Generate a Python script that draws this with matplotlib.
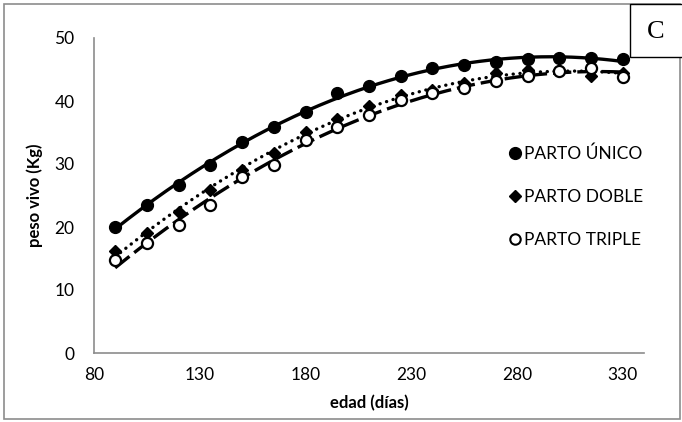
import numpy as np
import matplotlib
matplotlib.use("Agg")
import matplotlib.pyplot as plt
from matplotlib.patches import Rectangle
from matplotlib.lines import Line2D

plt.rcParams["font.family"] = ["Lato", "DejaVu Sans"]

# edad (días)
edad = [90, 105, 120, 135, 150, 165, 180, 195, 210, 225, 240, 255, 270, 285, 300, 315, 330]
# peso vivo (Kg)
unico = [20.0, 23.5, 26.7, 29.8, 33.5, 35.9, 38.3, 41.3, 42.4, 43.9, 45.2, 45.7, 46.2, 46.6, 46.8, 46.8, 46.7]
doble = [16.2, 19.0, 22.4, 25.9, 29.0, 31.8, 35.1, 37.1, 39.2, 41.0, 41.7, 42.9, 44.4, 44.9, 45.0, 43.9, 44.4]
triple = [14.8, 17.4, 20.3, 23.5, 28.0, 29.8, 33.8, 35.8, 37.8, 40.2, 41.2, 42.0, 43.1, 44.0, 44.8, 45.2, 43.8]

labels = ["PARTO ÚNICO", "PARTO DOBLE", "PARTO TRIPLE"]
x_ticks = [80, 130, 180, 230, 280, 330]
y_ticks = [0, 10, 20, 30, 40, 50]

W, H = 682, 422
fig = plt.figure(figsize=(W / 100, H / 100), dpi=100)
ax = fig.add_axes([94 / W, 1 - 353 / H, (644 - 94) / W, (353 - 38) / H])

x = np.array(edad, dtype=float)
xs = np.linspace(90, 330, 200)

# polynomial trend lines (order 2), as in the spreadsheet chart
styles = [
    (unico, "-", "butt"),
    (doble, (0, (0.05, 2.0)), "round"),
    (triple, (0, (5.5, 1.8)), "butt"),
]
for ys, ls, cap in styles:
    c = np.polyfit(x, ys, 2)
    ax.plot(xs, np.polyval(c, xs), color="black", lw=2.4, ls=ls,
            dash_capstyle=cap, zorder=2)

ax.plot(edad, unico, "o", color="black", ms=8.5, zorder=3)
ax.plot(edad, doble, "D", color="black", ms=6.5, zorder=3)
ax.plot(edad, triple, "o", mfc="white", mec="black", mew=1.6, ms=8, zorder=3)

ax.set_xlim(80, 340)
ax.set_ylim(0, 50)
ax.set_xticks(x_ticks)
ax.set_yticks(y_ticks)
ax.tick_params(length=0, labelsize=12.5, pad=14)
ax.tick_params(axis="x", pad=10)
for s in ["top", "right"]:
    ax.spines[s].set_visible(False)
for s in ["left", "bottom"]:
    ax.spines[s].set_color("#8c8c8c")
    ax.spines[s].set_linewidth(1.2)

ax.set_xlabel("edad (días)", fontsize=12, fontweight="bold", labelpad=9)
ax.set_ylabel("peso vivo (Kg)", fontsize=12, fontweight="bold", labelpad=8)

handles = [
    Line2D([], [], ls="none", marker="o", color="black", ms=8.5),
    Line2D([], [], ls="none", marker="D", color="black", ms=6.5),
    Line2D([], [], ls="none", marker="o", mfc="white", mec="black", mew=1.5, ms=7.5),
]
ax.legend(handles, labels, loc="upper left", bbox_to_anchor=(494 / W, 1 - 130 / H),
          bbox_transform=fig.transFigure, frameon=False, fontsize=12.5,
          handlelength=0.6, handletextpad=0.25, labelspacing=1.55)

# outer chart border
fig.patches.append(Rectangle((4 / W, 3 / H), (W - 6) / W, (H - 7) / H,
                             transform=fig.transFigure, fill=False,
                             ec="#8c8c8c", lw=1.2))
# panel letter box
fig.patches.append(Rectangle((630 / W, 1 - 57 / H), 60 / W, 53 / H,
                             transform=fig.transFigure, fc="white",
                             ec="black", lw=1.0, zorder=5))
fig.text(656 / W, 1 - 32 / H, "C", fontsize=19, family="Liberation Serif",
         ha="center", va="center", zorder=6)

fig.savefig("out.png", dpi=100)
